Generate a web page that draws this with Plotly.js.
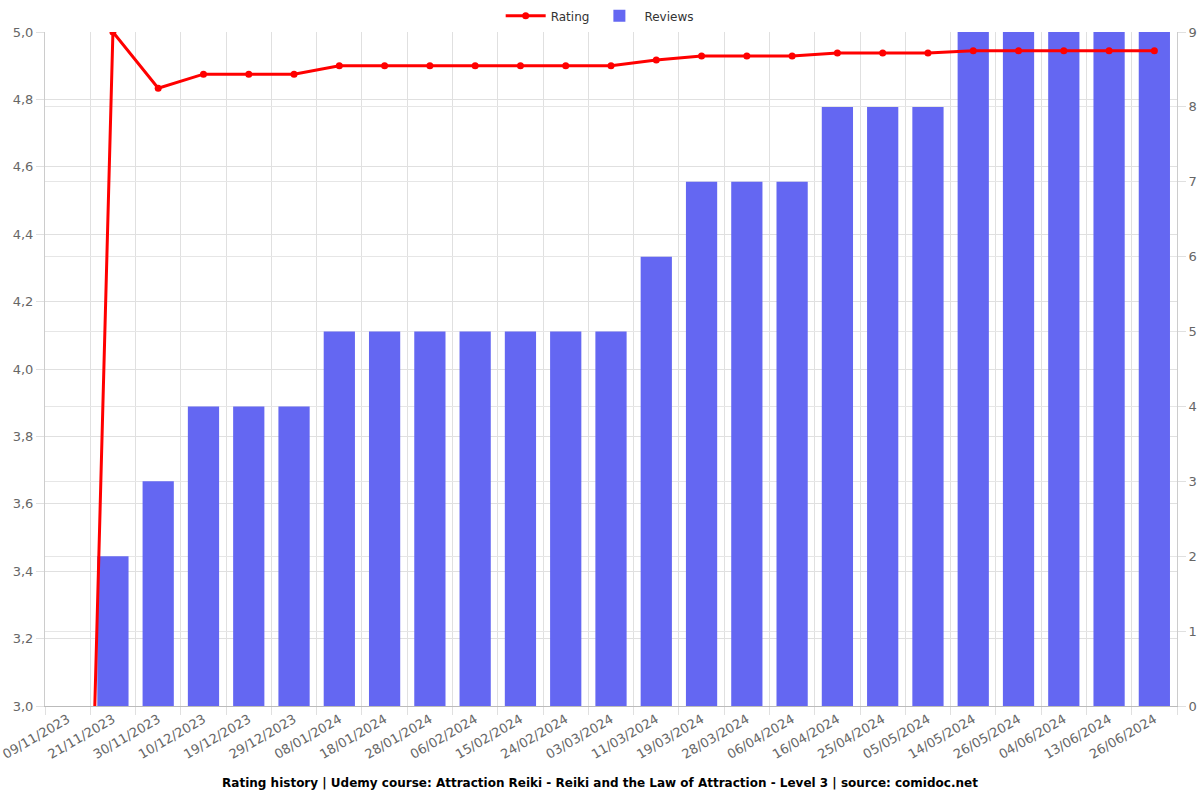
<!DOCTYPE html>
<html>
<head>
<meta charset="utf-8">
<script src="https://cdn.plot.ly/plotly-3.0.1.min.js"></script>
<style>html,body{margin:0;padding:0;background:#fff}#chart{width:1200px;height:800px}</style>
</head>
<body>
<div id="chart"></div>
<script>
const dates = ["09/11/2023","21/11/2023","30/11/2023","10/12/2023","19/12/2023","29/12/2023","08/01/2024","18/01/2024","28/01/2024","06/02/2024","15/02/2024","24/02/2024","03/03/2024","11/03/2024","19/03/2024","28/03/2024","06/04/2024","16/04/2024","25/04/2024","05/05/2024","14/05/2024","26/05/2024","04/06/2024","13/06/2024","26/06/2024"];
const rating = [0,5.0,4.833,4.875,4.875,4.875,4.9,4.9,4.9,4.9,4.9,4.9,4.9,4.917,4.929,4.929,4.929,4.9375,4.9375,4.9375,4.944,4.944,4.944,4.944,4.944];
const reviews = [0,2,3,4,4,4,5,5,5,5,5,5,5,6,7,7,7,8,8,8,9,9,9,9,9];
const ratingTicks = [3.0,3.2,3.4,3.6,3.8,4.0,4.2,4.4,4.6,4.8,5.0];
const reviewTicks = [0,1,2,3,4,5,6,7,8,9];

const font = "DejaVu Sans, sans-serif";
const traces = [
  {
    type: 'scatter', mode: 'lines+markers', name: 'Rating',
    x: dates, y: rating, yaxis: 'y2',
    line: {color: '#ff0000', width: 3},
    marker: {color: '#ff0000', size: 7}
  },
  {
    type: 'bar', name: 'Reviews',
    x: dates, y: reviews, yaxis: 'y',
    marker: {color: '#6467f2', line: {width: 0}}
  }
];
const layout = {
  width: 1200, height: 800,
  margin: {l: 45, r: 23, t: 32, b: 94, autoexpand: false},
  paper_bgcolor: '#fff', plot_bgcolor: '#fff',
  separators: ',.',
  font: {family: font, size: 13, color: '#666'},
  bargap: 0.31,
  showlegend: true,
  legend: {orientation: 'h', x: 0.49, xanchor: 'center', y: 1.024, yanchor: 'middle',
           font: {family: font, size: 12, color: '#333'}, itemwidth: 40},
  title: {text: '<b>Rating history | Udemy course: Attraction Reiki - Reiki and the Law of Attraction - Level 3 | source: comidoc.net</b>',
          x: 0.5, xanchor: 'center', y: 0.021, yref: 'container', yanchor: 'middle',
          font: {family: font, size: 12, color: '#000'}},
  xaxis: {type: 'category', tickson: 'boundaries', tickangle: -30, automargin: false,
          range: [-0.5, dates.length - 0.5],
          showgrid: true, gridcolor: '#e0e0e0', ticks: 'outside', ticklen: 8, tickcolor: '#e0e0e0',
          showline: true, linecolor: '#bbb', tickfont: {family: font, size: 13, color: '#666'}},
  yaxis: {side: 'right', range: [0, 9], tickvals: reviewTicks, showgrid: true, gridcolor: '#e6e6e6',
          automargin: false,
          ticks: 'outside', ticklen: 8, tickcolor: '#e0e0e0', showline: true, linecolor: '#ccc',
          zeroline: false, tickfont: {family: font, size: 13, color: '#666'}},
  yaxis2: {overlaying: 'y', side: 'left', range: [3, 5], tickvals: ratingTicks, tickformat: '.1f',
           automargin: false,
           showgrid: true, gridcolor: '#e0e0e0', ticks: 'outside', ticklen: 8, tickcolor: '#e0e0e0',
           showline: true, linecolor: '#ccc', zeroline: false,
           tickfont: {family: font, size: 13, color: '#666'}}
};
Plotly.newPlot('chart', traces, layout, {displayModeBar: false, staticPlot: true});
</script>
</body>
</html>
